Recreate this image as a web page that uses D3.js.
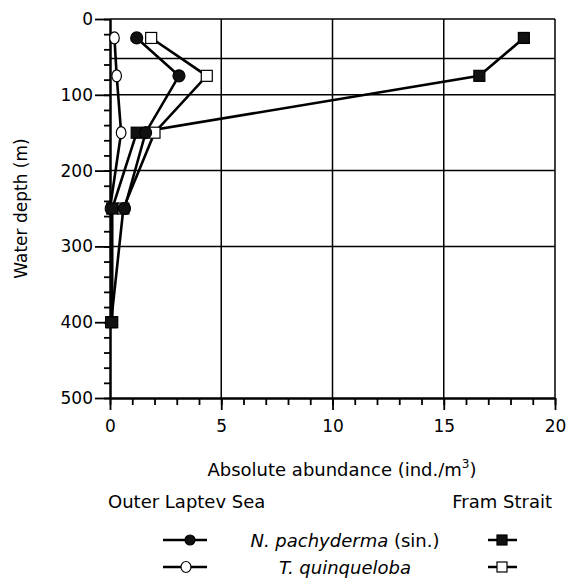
<!DOCTYPE html>
<html lang="en">
<head>
    <meta charset="UTF-8">
    <title>Absolute abundance vs water depth</title>
    <script src="https://d3js.org/d3.v7.min.js"></script>
    <style>
        body { margin: 0; background: #fff; }
        text { font-family: "DejaVu Sans", sans-serif; fill: #000; }
        .tick line { stroke: #000; stroke-width: 1.8px; }
        .domain { stroke: #000; stroke-width: 2px; }
        .grid { stroke: #000; stroke-width: 1.5px; }
        .series { fill: none; stroke: #000; stroke-width: 2.6px; }
    </style>
</head>
<body>
    <svg width="570" height="587"></svg>

    <script>
        // sampling depths (m)
        const depths = [25, 75, 150, 250, 400];

        // Outer Laptev Sea (no sample at 400 m)
        const laptevNpach = [1.2, 3.1, 1.6, 0.65];
        const laptevTquin = [0.2, 0.3, 0.5, 0.0];

        // Fram Strait
        const framNpach = [18.6, 16.6, 1.2, 0.1, 0.1];
        const framTquin = [1.85, 4.35, 2.0, 0.6, 0.05];

        const xTicks = [0, 5, 10, 15, 20];
        const yTicks = [0, 100, 200, 300, 400, 500];
        const hGrid = [0, 52, 100, 200, 300];
        const vGrid = [5, 10, 15, 20];

        const svg = d3.select("svg");

        const x = d3.scaleLinear().domain([0, 20]).range([110, 555]);
        const y = d3.scaleLinear().domain([0, 500]).range([19, 398]);

        // grid lines
        svg.selectAll("line.hgrid")
            .data(hGrid)
            .enter().append("line")
            .attr("class", "grid")
            .attr("x1", x(0)).attr("x2", x(20))
            .attr("y1", d => y(d)).attr("y2", d => y(d));

        svg.selectAll("line.vgrid")
            .data(vGrid)
            .enter().append("line")
            .attr("class", "grid")
            .attr("x1", d => x(d)).attr("x2", d => x(d))
            .attr("y1", y(0)).attr("y2", y(500));

        // axes: minor + major ticks
        svg.append("g")
            .attr("transform", `translate(${x(0)},0)`)
            .call(d3.axisLeft(y).tickValues(d3.range(0, 501, 20)).tickSize(6).tickSizeOuter(0).tickFormat(""));
        const yAx = svg.append("g")
            .attr("transform", `translate(${x(0)},0)`)
            .call(d3.axisLeft(y).tickValues(yTicks).tickSize(15).tickSizeOuter(0).tickPadding(2));
        yAx.selectAll("text").style("font-size", "17px");

        svg.append("g")
            .attr("transform", `translate(0,${y(500)})`)
            .call(d3.axisBottom(x).tickValues(d3.range(0, 21, 1)).tickSize(7).tickSizeOuter(0).tickFormat(""));
        const xAx = svg.append("g")
            .attr("transform", `translate(0,${y(500)})`)
            .call(d3.axisBottom(x).tickValues(xTicks).tickSize(12).tickSizeOuter(0).tickPadding(10));
        xAx.selectAll("text").style("font-size", "17px");

        // series lines
        const line = d3.line().x(d => x(d[0])).y(d => y(d[1]));
        const pairs = vals => vals.map((v, i) => [v, depths[i]]);

        const seriesList = [
            { vals: framTquin, shape: "square", filled: false },
            { vals: laptevTquin, shape: "circle", filled: false },
            { vals: framNpach, shape: "square", filled: true },
            { vals: laptevNpach, shape: "circle", filled: true }
        ];

        seriesList.forEach(s => {
            svg.append("path")
                .datum(pairs(s.vals))
                .attr("class", "series")
                .attr("d", line);
        });

        seriesList.forEach(s => {
            const g = svg.append("g");
            const pts = pairs(s.vals);
            if (s.shape === "circle") {
                g.selectAll("ellipse")
                    .data(pts)
                    .enter().append("ellipse")
                    .attr("cx", d => x(d[0])).attr("cy", d => y(d[1]))
                    .attr("rx", s.filled ? 6 : 4.8)
                    .attr("ry", 6)
                    .attr("fill", s.filled ? "#111" : "#fff")
                    .attr("stroke", "#000").attr("stroke-width", 1.2);
            } else {
                g.selectAll("rect")
                    .data(pts)
                    .enter().append("rect")
                    .attr("x", d => x(d[0]) - 5.5).attr("y", d => y(d[1]) - 5.5)
                    .attr("width", 11).attr("height", 11)
                    .attr("fill", s.filled ? "#111" : "#fff")
                    .attr("stroke", "#000").attr("stroke-width", 1.2);
            }
        });

        // axis titles
        svg.append("text")
            .attr("transform", `translate(27,${(y(0) + y(500)) / 2}) rotate(-90)`)
            .attr("text-anchor", "middle")
            .style("font-size", "17px")
            .text("Water depth (m)");

        const xt = svg.append("text")
            .attr("x", 342).attr("y", 476)
            .attr("text-anchor", "middle")
            .style("font-size", "18px");
        xt.append("tspan").text("Absolute abundance (ind./m");
        xt.append("tspan").attr("dy", -8).style("font-size", "12px").text("3");
        xt.append("tspan").attr("dy", 8).text(")");

        // legend
        svg.append("text").attr("x", 108).attr("y", 508).style("font-size", "18px").text("Outer Laptev Sea");
        svg.append("text").attr("x", 552).attr("y", 508).attr("text-anchor", "end").style("font-size", "18px").text("Fram Strait");

        const legendRows = [
            { name: "N. pachyderma", extra: " (sin.)", filled: true, cy: 540 },
            { name: "T. quinqueloba", extra: "", filled: false, cy: 567 }
        ];

        legendRows.forEach(r => {
            const t = svg.append("text")
                .attr("x", 345).attr("y", r.cy + 6.5)
                .attr("text-anchor", "middle")
                .style("font-size", "18px");
            t.append("tspan").style("font-style", "italic").text(r.name);
            if (r.extra) t.append("tspan").text(r.extra);

            svg.append("line").attr("x1", 163).attr("x2", 207).attr("y1", r.cy).attr("y2", r.cy)
                .attr("stroke", "#000").attr("stroke-width", 2.5);
            svg.append("ellipse").attr("cx", r.filled ? 190 : 186).attr("cy", r.cy)
                .attr("rx", 5).attr("ry", r.filled ? 5 : 5.5)
                .attr("fill", r.filled ? "#111" : "#fff").attr("stroke", "#000").attr("stroke-width", 1.2);

            svg.append("line").attr("x1", 488).attr("x2", 517).attr("y1", r.cy).attr("y2", r.cy)
                .attr("stroke", "#000").attr("stroke-width", 2.5);
            svg.append("rect").attr("x", 497).attr("y", r.cy - 5).attr("width", 10).attr("height", 10)
                .attr("fill", r.filled ? "#111" : "#fff").attr("stroke", "#000").attr("stroke-width", 1.2);
        });
    </script>
</body>
</html>
